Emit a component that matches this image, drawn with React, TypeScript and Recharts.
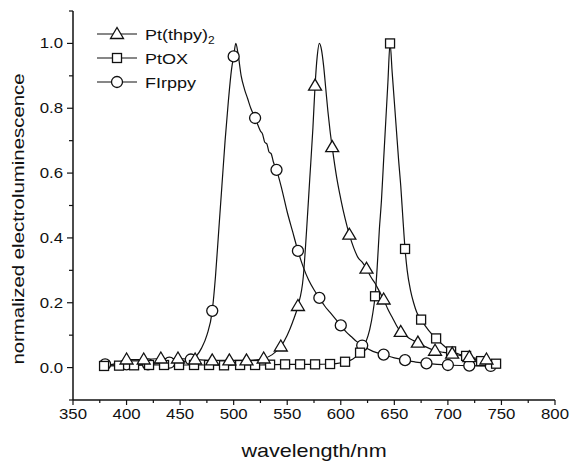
import React from "react";
import { ComposedChart, Line, Scatter, XAxis, YAxis, Legend } from "recharts";

// wavelength (nm), normalized EL
const firppyCurve: [number, number][] = [
  [378, 0.01], [390, 0.008], [400, 0.01], [410, 0.008], [420, 0.01], [430, 0.012], [440, 0.015],
  [450, 0.018], [455, 0.02], [460, 0.025], [465, 0.035], [470, 0.06], [475, 0.1], [480, 0.175],
  [483, 0.28], [486, 0.42], [489, 0.56], [492, 0.7], [495, 0.82], [498, 0.92], [500, 0.96],
  [502, 1.0], [504, 0.97], [507, 0.9], [510, 0.86], [513, 0.83], [516, 0.8], [520, 0.77],
  [523, 0.745], [525, 0.73], [527, 0.72], [529, 0.695], [531, 0.69], [533, 0.665], [535, 0.66],
  [537, 0.635], [540, 0.61], [545, 0.55], [550, 0.48], [555, 0.42], [560, 0.36], [565, 0.31],
  [570, 0.27], [575, 0.24], [580, 0.215], [585, 0.19], [590, 0.17], [595, 0.15], [600, 0.13],
  [605, 0.11], [610, 0.095], [615, 0.08], [620, 0.068], [630, 0.05], [640, 0.04], [650, 0.03],
  [660, 0.023], [670, 0.017], [680, 0.013], [690, 0.01], [700, 0.008], [720, 0.006], [745, 0.005],
];
const firppyMarks: [number, number][] = [
  [380, 0.01], [400, 0.01], [420, 0.01], [440, 0.015], [460, 0.025], [480, 0.175], [500, 0.96],
  [520, 0.77], [540, 0.61], [560, 0.36], [580, 0.215], [600, 0.13], [620, 0.068], [640, 0.04],
  [660, 0.023], [680, 0.013], [700, 0.008], [720, 0.006], [740, 0.005],
];

const ptthpyCurve: [number, number][] = [
  [378, 0.005], [390, 0.012], [400, 0.025], [416, 0.025], [432, 0.028], [448, 0.028], [464, 0.025],
  [480, 0.022], [496, 0.022], [512, 0.022], [528, 0.028], [536, 0.04], [544, 0.065], [550, 0.1],
  [555, 0.14], [560, 0.19], [565, 0.28], [568, 0.42], [571, 0.58], [574, 0.74], [576, 0.87],
  [578, 0.96], [580, 1.0], [582, 0.98], [584, 0.93], [586, 0.86], [588, 0.79], [590, 0.73],
  [592, 0.68], [596, 0.59], [600, 0.52], [604, 0.46], [608, 0.41], [612, 0.37], [616, 0.34],
  [620, 0.325], [624, 0.305], [628, 0.28], [632, 0.26], [636, 0.235], [640, 0.21], [644, 0.18],
  [648, 0.155], [652, 0.13], [656, 0.11], [660, 0.1], [665, 0.088], [672, 0.077], [680, 0.063],
  [688, 0.052], [696, 0.047], [704, 0.043], [712, 0.037], [720, 0.032], [728, 0.028], [736, 0.025],
  [745, 0.02],
];
const ptthpyMarks: [number, number][] = [
  [400, 0.025], [416, 0.025], [432, 0.028], [448, 0.028], [464, 0.025], [480, 0.022], [496, 0.022],
  [512, 0.022], [528, 0.028], [544, 0.065], [560, 0.19], [576, 0.87], [592, 0.68], [608, 0.41],
  [624, 0.305], [640, 0.21], [656, 0.11], [672, 0.077], [688, 0.052], [704, 0.043], [720, 0.032],
  [736, 0.025],
];

const ptoxCurve: [number, number][] = [
  [379, 0.005], [393, 0.006], [407, 0.007], [421, 0.008], [435, 0.008], [449, 0.008], [463, 0.008],
  [477, 0.008], [491, 0.007], [506, 0.008], [520, 0.008], [534, 0.009], [548, 0.01], [562, 0.01],
  [576, 0.01], [590, 0.011], [597, 0.013], [604, 0.018], [611, 0.026], [618, 0.046], [623, 0.075],
  [627, 0.117], [630, 0.17], [632, 0.22], [634, 0.31], [636, 0.425], [638, 0.517], [640, 0.64],
  [642, 0.76], [644, 0.88], [646, 1.0], [648, 0.91], [650, 0.82], [652, 0.73], [654, 0.64],
  [656, 0.56], [658, 0.46], [660, 0.366], [662, 0.3], [665, 0.24], [668, 0.2], [671, 0.17],
  [675, 0.148], [682, 0.115], [689, 0.09], [696, 0.068], [703, 0.05], [710, 0.042], [717, 0.036],
  [724, 0.027], [731, 0.02], [738, 0.015], [745, 0.012],
];
const ptoxMarks: [number, number][] = [
  [379, 0.005], [393, 0.006], [407, 0.007], [421, 0.008], [435, 0.008], [449, 0.008], [463, 0.008],
  [477, 0.008], [491, 0.007], [506, 0.008], [520, 0.008], [534, 0.009], [548, 0.01], [562, 0.01],
  [576, 0.01], [590, 0.011], [604, 0.018], [618, 0.046], [632, 0.22], [646, 1.0], [660, 0.366],
  [675, 0.148], [689, 0.09], [703, 0.05], [717, 0.036], [731, 0.02], [745, 0.012],
];

const xTicks = [350, 375, 400, 425, 450, 475, 500, 525, 550, 575, 600, 625, 650, 675, 700, 725, 750, 775, 800];
const yTicks = [-0.1, 0, 0.1, 0.2, 0.3, 0.4, 0.5, 0.6, 0.7, 0.8, 0.9, 1.0, 1.1];
const seriesNames = ["Pt(thpy)", "PtOX", "FIrppy"];

const toPts = (a: [number, number][]) => a.map(([x, y]) => ({ x, y }));

const FONT = "'Liberation Sans', Arial, Helvetica, sans-serif";
const INK = "#111";

const Tri = (cx: number, cy: number) => (
  <polygon
    points={`${cx},${cy - 6.5} ${cx - 6.5},${cy + 4.5} ${cx + 6.5},${cy + 4.5}`}
    fill="#fff"
    stroke={INK}
    strokeWidth={1.3}
  />
);
const Sq = (cx: number, cy: number) => (
  <rect x={cx - 4.5} y={cy - 4.5} width={9} height={9} fill="#fff" stroke={INK} strokeWidth={1.3} />
);
const Circ = (cx: number, cy: number) => (
  <circle cx={cx} cy={cy} r={5.5} fill="#fff" stroke={INK} strokeWidth={1.3} />
);

const XTick = (props: any) => {
  const { x, y, payload } = props;
  const v = payload.value;
  const major = v % 50 === 0;
  return (
    <g>
      <line x1={x} x2={x} y1={y} y2={y + (major ? 5 : 3)} stroke={INK} strokeWidth={1.2} />
      {major && (
        <text
          transform={`translate(${x},${y + 19}) scale(1.2,1)`}
          textAnchor="middle"
          fontSize={14}
          fontFamily={FONT}
          fill={INK}
        >
          {v}
        </text>
      )}
    </g>
  );
};

const YTick = (props: any) => {
  const { x, y, payload } = props;
  const v = payload.value;
  const t = Math.round(v * 10);
  const major = t >= 0 && t <= 10 && t % 2 === 0;
  return (
    <g>
      <line x1={x} x2={x - (major ? 6 : 4)} y1={y} y2={y} stroke={INK} strokeWidth={1.2} />
      {major && (
        <text
          transform={`translate(${x - 10},${y + 5}) scale(1.2,1)`}
          textAnchor="end"
          fontSize={14}
          fontFamily={FONT}
          fill={INK}
        >
          {v.toFixed(1)}
        </text>
      )}
    </g>
  );
};

const TopTick = (props: any) => {
  const { x, y, payload } = props;
  const major = payload.value % 50 === 0;
  return <line x1={x} x2={x} y1={y} y2={y - (major ? 2 : 1)} stroke={INK} strokeWidth={1.2} />;
};
const RightTick = (props: any) => {
  const { x, y } = props;
  return <line x1={x} x2={x + 2} y1={y} y2={y} stroke={INK} strokeWidth={1.2} />;
};

const LegendBox = () => {
  const rows = [
    { y: 34, m: Tri },
    { y: 58, m: Sq },
    { y: 82, m: Circ },
  ];
  return (
    <svg width={260} height={100} style={{ display: "block" }}>
      {rows.map((r, i) => (
        <g key={i}>
          <line x1={97} x2={137} y1={r.y} y2={r.y} stroke={INK} strokeWidth={1.2} />
          {r.m(117, r.y)}
          <text x={0} y={0} transform={`translate(145,${r.y + 5.5}) scale(1.2,1)`} fontSize={15} fontFamily={FONT} fill={INK}>
            {seriesNames[i]}
            {i === 0 && (
              <tspan fontSize={10} dy={4}>
                2
              </tspan>
            )}
          </text>
        </g>
      ))}
    </svg>
  );
};

export default function App() {
  return (
    <div style={{ position: "absolute", left: 0, top: 0, width: 570, height: 462, background: "#fff" }}>
      <ComposedChart width={570} height={462} margin={{ top: 11, right: 15, bottom: 32, left: 13 }}>
        <XAxis
          dataKey="x"
          type="number"
          domain={[350, 800]}
          ticks={xTicks}
          interval={0}
          tickSize={0}
          tickMargin={0}
          height={30}
          tick={<XTick />}
          axisLine={{ stroke: INK, strokeWidth: 1.5 }}
          tickLine={false}
          allowDataOverflow
        />
        <XAxis
          xAxisId="t"
          dataKey="x"
          type="number"
          orientation="top"
          domain={[350, 800]}
          ticks={xTicks}
          interval={0}
          tickSize={0}
          tickMargin={0}
          height={0}
          tick={<TopTick />}
          axisLine={{ stroke: INK, strokeWidth: 1.5 }}
          tickLine={false}
        />
        <YAxis
          type="number"
          domain={[-0.1, 1.1]}
          ticks={yTicks}
          interval={0}
          tickSize={0}
          tickMargin={0}
          width={60}
          tick={<YTick />}
          axisLine={{ stroke: INK, strokeWidth: 1.5 }}
          tickLine={false}
          allowDataOverflow
          label={{
            content: () => (
              <text
                transform="translate(24,219) rotate(-90) scale(1.2,1)"
                textAnchor="middle"
                fontSize={17}
                fontFamily={FONT}
                fill={INK}
              >
                normalized electroluminescence
              </text>
            ),
          }}
        />
        <YAxis
          yAxisId="r"
          type="number"
          orientation="right"
          domain={[-0.1, 1.1]}
          ticks={yTicks}
          interval={0}
          tickSize={0}
          tickMargin={0}
          width={0}
          tick={<RightTick />}
          axisLine={{ stroke: INK, strokeWidth: 1.5 }}
          tickLine={false}
        />
        <Line data={toPts(firppyCurve)} dataKey="y" type="monotone" stroke={INK} strokeWidth={1.2} dot={false} isAnimationActive={false} />
        <Line data={toPts(ptoxCurve)} dataKey="y" type="monotone" stroke={INK} strokeWidth={1.2} dot={false} isAnimationActive={false} />
        <Line data={toPts(ptthpyCurve)} dataKey="y" type="monotone" stroke={INK} strokeWidth={1.2} dot={false} isAnimationActive={false} />
        <Scatter data={toPts(firppyMarks)} dataKey="y" isAnimationActive={false} shape={(p: any) => Circ(p.cx, p.cy)} />
        <Scatter data={toPts(ptoxMarks)} dataKey="y" isAnimationActive={false} shape={(p: any) => Sq(p.cx, p.cy)} />
        <Scatter data={toPts(ptthpyMarks)} dataKey="y" isAnimationActive={false} shape={(p: any) => Tri(p.cx, p.cy)} />
        <Legend
          layout="vertical"
          align="center"
          verticalAlign="middle"
          wrapperStyle={{ left: 0, top: 0, width: 260, height: 100 }}
          content={() => <LegendBox />}
        />
      </ComposedChart>
      <svg width={570} height={462} style={{ position: "absolute", left: 0, top: 0, pointerEvents: "none" }}>
        <text transform="translate(314,457) scale(1.2,1)" textAnchor="middle" fontSize={18} fontFamily={FONT} fill={INK}>
          wavelength/nm
        </text>
      </svg>
    </div>
  );
}
